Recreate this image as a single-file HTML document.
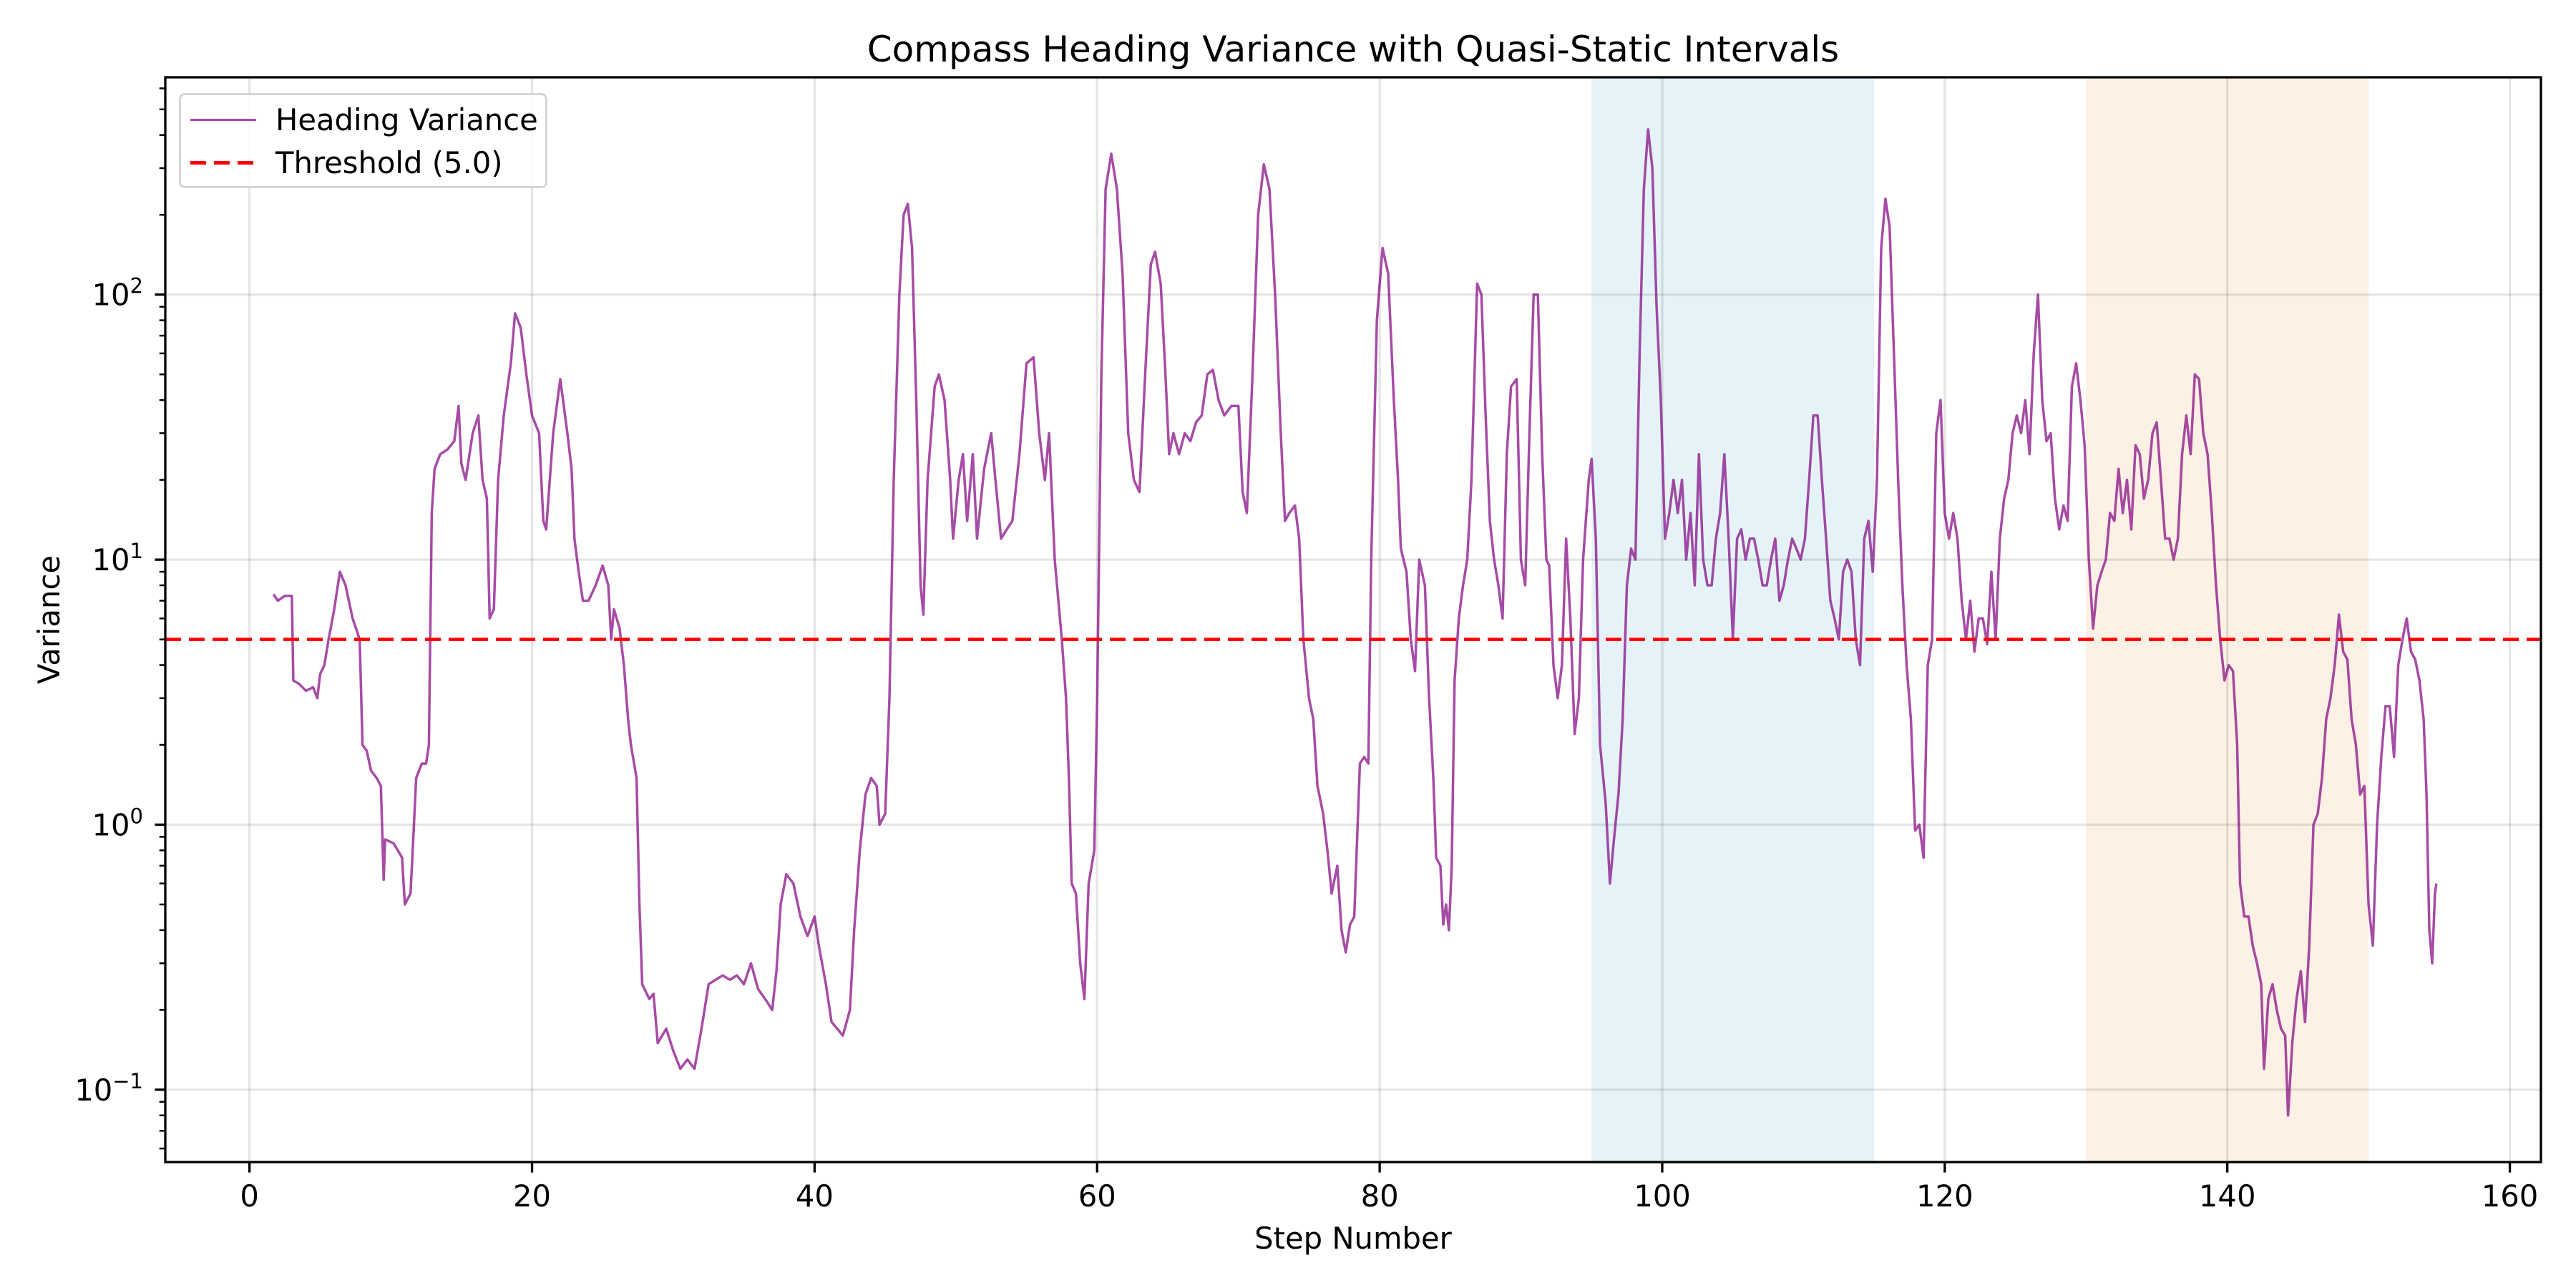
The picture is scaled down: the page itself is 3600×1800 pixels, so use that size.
<!DOCTYPE html>
<html><head><meta charset="utf-8"><style>
html,body{margin:0;padding:0;background:#fff;}
svg{display:block;font-family:"DejaVu Sans","Liberation Sans",sans-serif;}
</style></head><body>
<svg id="chart" width="3600" height="1800" viewBox="0 0 3600 1800"></svg>
<script>
const steps=[1.7,2.0,2.5,3.0,3.1,3.5,4.0,4.5,4.8,5.0,5.3,5.6,6.0,6.4,6.8,7.3,7.8,8.0,8.3,8.6,9.0,9.3,9.5,9.6,10.2,10.5,10.8,11.0,11.4,11.6,11.8,12.2,12.5,12.7,12.9,13.1,13.5,14.0,14.5,14.8,15.0,15.3,15.8,16.2,16.5,16.8,17.0,17.3,17.6,18.0,18.5,18.8,19.2,19.6,20.0,20.5,20.8,21.0,21.5,22.0,22.5,22.8,23.0,23.3,23.6,24.0,24.5,25.0,25.4,25.6,25.8,26.2,26.5,26.8,27.0,27.4,27.6,27.8,28.3,28.6,28.9,29.5,30.0,30.5,31.0,31.5,32.0,32.5,33.0,33.5,34.0,34.5,35.0,35.5,36.0,36.5,37.0,37.3,37.6,38.0,38.5,39.0,39.5,40.0,40.3,40.8,41.2,41.6,42.0,42.5,42.8,43.2,43.6,44.0,44.4,44.6,45.0,45.3,45.6,46.0,46.3,46.6,46.9,47.2,47.5,47.7,48.0,48.5,48.8,49.2,49.6,49.8,50.2,50.5,50.8,51.2,51.5,52.0,52.5,52.8,53.2,53.6,54.0,54.5,55.0,55.5,55.9,56.3,56.6,57.0,57.5,57.8,58.0,58.2,58.5,58.8,59.1,59.4,59.8,60.0,60.3,60.6,61.0,61.4,61.8,62.2,62.6,63.0,63.4,63.8,64.1,64.5,64.8,65.1,65.4,65.8,66.2,66.6,67.0,67.4,67.8,68.2,68.6,69.0,69.5,70.0,70.3,70.6,71.0,71.4,71.8,72.2,72.6,73.0,73.3,73.6,74.0,74.3,74.6,75.0,75.3,75.6,76.0,76.3,76.6,77.0,77.3,77.6,77.9,78.2,78.6,78.9,79.2,79.4,79.8,80.2,80.6,81.0,81.3,81.5,81.9,82.2,82.5,82.8,83.2,83.5,83.8,84.0,84.3,84.5,84.7,84.9,85.1,85.3,85.6,85.9,86.2,86.5,86.9,87.2,87.5,87.8,88.1,88.4,88.7,89.0,89.3,89.7,90.0,90.3,90.6,90.9,91.2,91.5,91.8,92.0,92.3,92.6,92.9,93.2,93.5,93.8,94.1,94.4,94.8,95.0,95.3,95.6,96.0,96.3,96.6,96.9,97.2,97.5,97.8,98.1,98.4,98.7,99.0,99.3,99.6,99.9,100.2,100.5,100.8,101.1,101.4,101.7,102.0,102.3,102.6,102.9,103.2,103.5,103.8,104.1,104.4,104.7,105.0,105.3,105.6,105.9,106.2,106.5,106.8,107.1,107.4,107.7,108.0,108.3,108.6,108.9,109.2,109.5,109.8,110.1,110.4,110.7,111.0,111.3,111.6,111.9,112.2,112.5,112.8,113.1,113.4,113.7,114.0,114.3,114.6,114.9,115.2,115.5,115.8,116.1,116.4,116.7,117.0,117.3,117.6,117.9,118.2,118.5,118.8,119.1,119.4,119.7,120.0,120.3,120.6,120.9,121.2,121.5,121.8,122.1,122.4,122.7,123.0,123.3,123.6,123.9,124.2,124.5,124.8,125.1,125.4,125.7,126.0,126.3,126.6,126.9,127.2,127.5,127.8,128.1,128.4,128.7,129.0,129.3,129.6,129.9,130.2,130.5,130.8,131.1,131.4,131.7,132.0,132.3,132.6,132.9,133.2,133.5,133.8,134.1,134.4,134.7,135.0,135.3,135.6,135.9,136.2,136.5,136.8,137.1,137.4,137.7,138.0,138.3,138.6,138.9,139.2,139.5,139.8,140.1,140.4,140.7,140.9,141.2,141.5,141.8,142.1,142.4,142.6,142.9,143.2,143.5,143.8,144.1,144.3,144.6,144.9,145.2,145.5,145.8,146.1,146.4,146.7,147.0,147.3,147.6,147.9,148.2,148.5,148.8,149.1,149.4,149.7,150.0,150.3,150.6,150.9,151.2,151.5,151.8,152.1,152.4,152.7,153.0,153.3,153.6,153.9,154.1,154.3,154.5,154.7,154.8];
const variance=[7.4,7.0,7.3,7.3,3.5,3.4,3.2,3.3,3.0,3.7,4.0,5.0,6.5,9.0,8.0,6.0,5.0,2.0,1.9,1.6,1.5,1.4,0.62,0.88,0.85,0.8,0.75,0.5,0.55,0.9,1.5,1.7,1.7,2.0,15,22,25,26,28,38,23,20,30,35,20,17,6,6.5,20,35,55,85,75,50,35,30,14,13,30,48,30,22,12,9,7,7,8,9.5,8,5.0,6.5,5.5,4.0,2.5,2.0,1.5,0.5,0.25,0.22,0.23,0.15,0.17,0.14,0.12,0.13,0.12,0.17,0.25,0.26,0.27,0.26,0.27,0.25,0.3,0.24,0.22,0.2,0.28,0.5,0.65,0.6,0.45,0.38,0.45,0.35,0.25,0.18,0.17,0.16,0.2,0.4,0.8,1.3,1.5,1.4,1.0,1.1,3.0,20,100,200,220,150,40,8,6.2,20,45,50,40,20,12,20,25,14,25,12,22,30,20,12,13,14,25,55,58,30,20,30,10,5,3,1.5,0.6,0.55,0.3,0.22,0.6,0.8,3,50,250,340,250,120,30,20,18,50,130,145,110,55,25,30,25,30,28,33,35,50,52,40,35,38,38,18,15,50,200,310,250,100,30,14,15,16,12,5,3,2.5,1.4,1.1,0.8,0.55,0.7,0.4,0.33,0.42,0.45,1.7,1.8,1.7,10,80,150,120,40,20,11,9,5,3.8,10,8,3,1.5,0.75,0.7,0.42,0.5,0.4,0.7,3.5,6,8,10,20,110,100,35,14,10,8,6,25,45,48,10,8,30,100,100,25,10,9.5,4,3,4,12,6,2.2,3,10,20,24,12,2,1.2,0.6,0.9,1.3,2.5,8,11,10,60,250,420,300,90,40,12,15,20,15,20,10,15,8,25,10,8,8,12,15,25,12,5,12,13,10,12,12,10,8,8,10,12,7,8,10,12,11,10,12,20,35,35,20,12,7,6,5,9,10,9,5,4,12,14,9,20,150,230,180,60,20,8,4,2.5,0.95,1,0.75,4,5,30,40,15,12,15,12,7,5,7,4.5,6,6,4.8,9,5,12,17,20,30,35,30,40,25,60,100,40,28,30,17,13,16,14,45,55,40,27,10,5.5,8,9,10,15,14,22,15,20,13,27,25,17,20,30,33,20,12,12,10,12,25,35,25,50,48,30,25,15,8,5,3.5,4,3.8,2,0.6,0.45,0.45,0.35,0.3,0.25,0.12,0.22,0.25,0.2,0.17,0.16,0.08,0.15,0.22,0.28,0.18,0.35,1.0,1.1,1.5,2.5,3,4,6.2,4.5,4.2,2.5,2.0,1.3,1.4,0.5,0.35,1.0,1.8,2.8,2.8,1.8,4,5,6,4.5,4.2,3.5,2.5,1.3,0.4,0.3,0.55,0.6];
const xTicks=[0,20,40,60,80,100,120,140,160];
const yTickExps=[-1,0,1,2];
const threshold=[5.0];
const spans=[[95,115],[130,150]];

const NS='http://www.w3.org/2000/svg';
const svg=document.getElementById('chart');
const L=231,R=3551,T=108,B=1624;
const xMin=-5.96,xMax=162.2,lgMin=-1.273,lgMax=2.82;
const X=v=>L+(v-xMin)/(xMax-xMin)*(R-L);
const Y=v=>B-(Math.log10(v)-lgMin)/(lgMax-lgMin)*(B-T);
function mk(tag,attrs,parent){const e=document.createElementNS(NS,tag);for(const k in attrs)e.setAttribute(k,attrs[k]);(parent||svg).appendChild(e);return e;}

const spanColors=['#e5f3f8','#fdf0e5'];
spans.forEach((s,i)=>{
  const r=mk('rect',{x:X(s[0]),y:T,width:X(s[1])-X(s[0]),height:B-T,fill:spanColors[i]});
  
  
});
xTicks.forEach(t=>{
  const g=mk('line',{x1:X(t),x2:X(t),y1:T,y2:B,stroke:'#000','stroke-opacity':0.1,'stroke-width':3.3});
  
  
});
yTickExps.forEach(e=>{
  const g=mk('line',{x1:L,x2:R,y1:Y(Math.pow(10,e)),y2:Y(Math.pow(10,e)),stroke:'#000','stroke-opacity':0.1,'stroke-width':3.3});
  
  
});
let d='';
steps.forEach((s,i)=>{d+=(i?'L':'M')+X(s).toFixed(1)+','+Y(variance[i]).toFixed(1);});
const line=mk('path',{d:d,fill:'none',stroke:'#800080','stroke-opacity':0.7,'stroke-width':3.5,'stroke-linejoin':'round'});


const th=mk('line',{x1:L,x2:R,y1:Y(threshold[0]),y2:Y(threshold[0]),stroke:'#ff0000','stroke-width':4.6,'stroke-dasharray':'22 11'});


const fr=mk('rect',{x:L,y:T,width:R-L,height:B-T,fill:'none',stroke:'#000','stroke-width':3.3});


xTicks.forEach(t=>{
  const tk=mk('line',{x1:X(t),x2:X(t),y1:B,y2:B+14.6,stroke:'#000','stroke-width':3.3});
  
  
  const lb=mk('text',{x:X(t),y:B+62,'font-size':41.7,'text-anchor':'middle',fill:'#000'});
  lb.textContent=t;
  
  
});
yTickExps.forEach(e=>{
  const y=Y(Math.pow(10,e));
  const tk=mk('line',{x1:L-14.6,x2:L,y1:y,y2:y,stroke:'#000','stroke-width':3.3});
  
  
  const lb=mk('text',{x:200,y:y+15,'font-size':41.7,'text-anchor':'end',fill:'#000'});
  const base=mk('tspan',{},lb);base.textContent='10';
  const sup=mk('tspan',{dy:-17,'font-size':29},lb);sup.textContent=(e<0?'\u2212':'')+Math.abs(e);
  
  
});
for(let e=-2;e<=2;e++){for(let m=2;m<=9;m++){const v=m*Math.pow(10,e);const lg=Math.log10(v);if(lg<lgMin||lg>lgMax)continue;
  const tk=mk('line',{x1:L-8.3,x2:L,y1:Y(v),y2:Y(v),stroke:'#000','stroke-width':2.5});
  
  
}}
</script>
<div style="position:absolute;left:0;top:0;width:3600px;height:1800px;pointer-events:none;font-family:'DejaVu Sans','Liberation Sans',sans-serif;">
  <div style="position:absolute;left:0;width:3782px;top:40px;text-align:center;font-size:50px;line-height:58px;white-space:nowrap;">Compass Heading Variance with Quasi-Static Intervals</div>
  <div style="position:absolute;left:0;width:3782px;top:1706px;text-align:center;font-size:41.7px;line-height:50px;">Step Number</div>
  <div style="position:absolute;left:69px;top:866px;font-size:41.7px;line-height:50px;transform:translate(-50%,-50%) rotate(-90deg);white-space:nowrap;">Variance</div>
  <div style="position:absolute;left:250px;top:130px;width:515px;height:133px;border:3px solid #d6d6d6;border-radius:8px;background:rgba(255,255,255,0.8);box-sizing:border-box;">
    <div style="position:absolute;left:13px;top:10px;height:50px;width:480px;">
      <div style="position:absolute;left:0;top:23px;width:92px;height:3px;background:#800080;opacity:0.7;"></div>
      <div style="position:absolute;left:119px;top:0;font-size:41.7px;line-height:50px;white-space:nowrap;">Heading Variance</div>
    </div>
    <div style="position:absolute;left:13px;top:70px;height:50px;width:480px;">
      <div style="position:absolute;left:0;top:22px;width:92px;height:5px;background:repeating-linear-gradient(90deg,#ff0000 0 22px,transparent 22px 33px);"></div>
      <div style="position:absolute;left:119px;top:0;font-size:41.7px;line-height:50px;white-space:nowrap;">Threshold (5.0)</div>
    </div>
  </div>
</div>
</body></html>
